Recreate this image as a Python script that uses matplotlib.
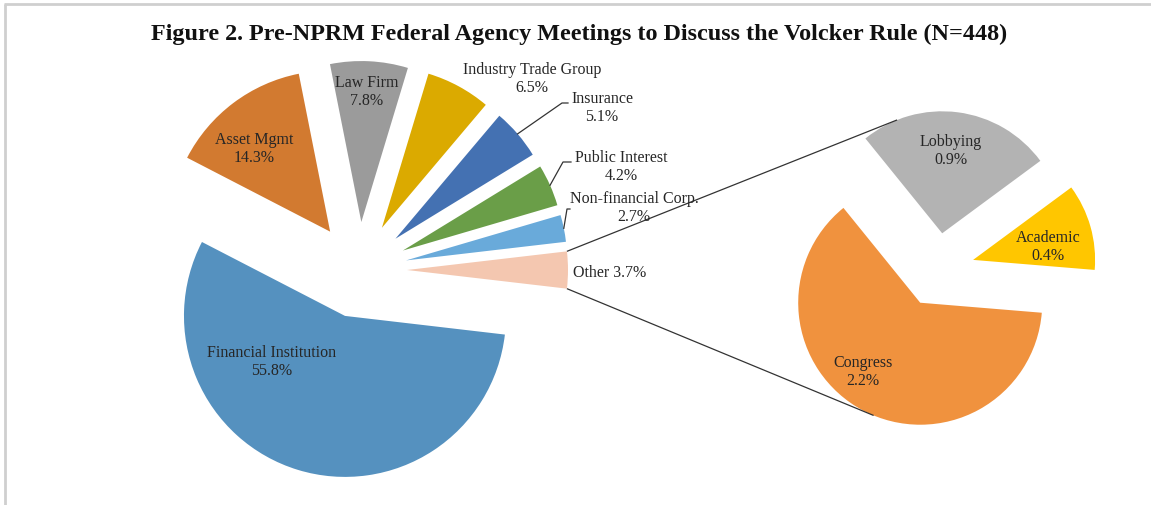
import numpy as np
import matplotlib
matplotlib.use("Agg")
import matplotlib.pyplot as plt

# ---------------- data ----------------
title = "Figure 2. Pre-NPRM Federal Agency Meetings to Discuss the Volcker Rule (N=448)"
main_labels = ["Financial Institution", "Asset Mgmt", "Law Firm", "Industry Trade Group",
               "Insurance", "Public Interest", "Non-financial Corp.", "Other"]
main_values = [55.8, 14.3, 7.8, 6.5, 5.1, 4.2, 2.7, 3.7]
main_colors = ["#5591BF", "#D27A30", "#9B9B9B", "#DBAA00",
               "#4471B2", "#6A9E48", "#69AADA", "#F4C7B0"]
sub_labels = ["Lobbying", "Academic", "Congress"]
sub_values = [0.9, 0.4, 2.2]
sub_colors = ["#B3B3B3", "#FFC600", "#F0923E"]

# ---------------- layout ----------------
W, H = 1151, 505
fig = plt.figure(figsize=(W / 100, H / 100), dpi=100)
ax = fig.add_axes([0, 0, 1, 1])


def Y(y):
    return H - y


FONT = "Liberation Serif"
TXT = "#262626"
FS = 11.5

c1 = np.array([359.0, Y(270)])
r1, e1 = 161.0, 48.0
c2 = np.array([937.5, Y(270)])
r2, e2 = 122.0, 37.0

other_angle = 360 * main_values[-1] / sum(main_values)
w1, _ = ax.pie(main_values, colors=main_colors, radius=r1, center=tuple(c1),
               startangle=-other_angle / 2, counterclock=False,
               wedgeprops=dict(linewidth=0), frame=True)
w2, _ = ax.pie(sub_values, colors=sub_colors, radius=r2, center=tuple(c2),
               startangle=129, counterclock=False,
               wedgeprops=dict(linewidth=0), frame=True)


def explode(wedges, c, e):
    for w in wedges:
        m = np.deg2rad(0.5 * (w.theta1 + w.theta2))
        w.set_center(tuple(c + e * np.array([np.cos(m), np.sin(m)])))


explode(w1, c1, e1)
explode(w2, c2, e2)


def pt(w, deg):
    t = np.deg2rad(deg)
    return np.array(w.center) + w.r * np.array([np.cos(t), np.sin(t)])


def tangent(P, w, sign):
    O = np.array(w.center)
    v = P - O
    d = np.hypot(*v)
    t = np.arctan2(v[1], v[0]) + sign * np.arccos(w.r / d)
    return O + w.r * np.array([np.cos(t), np.sin(t)])


# connector lines (tangent from "Other" corners to second pie)
other = w1[-1]
p_top = pt(other, other.theta2)
p_bot = pt(other, other.theta1)
t_top = tangent(p_top, w2[0], -1)
t_bot = tangent(p_bot, w2[2], +1)
for a, b in [(p_top, t_top), (p_bot, t_bot)]:
    ax.plot([a[0], b[0]], [a[1], b[1]], color="#333333", lw=0.9, solid_capstyle="butt")

# leader lines
leaders = {4: [(562, 103), (568, 103)], 5: [(563, 162), (571, 162)], 6: [(567, 209), (570, 209)]}
for i, pts in leaders.items():
    w = w1[i]
    s = pt(w, 0.5 * (w.theta1 + w.theta2))
    xs = [s[0]] + [p[0] for p in pts]
    ys = [s[1]] + [Y(p[1]) for p in pts]
    ax.plot(xs, ys, color="#333333", lw=0.9)

# labels
main_pos = [(272, 362), (254, 149), (367, 92), (532, 79), (602, 108), (621, 167), (634, 208)]
for lab, v, (x, y) in zip(main_labels[:-1], main_values[:-1], main_pos):
    ax.text(x, Y(y), f"{lab}\n{v}%", ha="center", va="center", fontsize=FS,
            family=FONT, color=TXT, linespacing=1.18)
ax.text(610, Y(273), f"{main_labels[-1]} {main_values[-1]}%", ha="center", va="center",
        fontsize=FS, family=FONT, color=TXT)

sub_pos = [(951, 151), (1048, 247), (863, 372)]
for lab, v, (x, y) in zip(sub_labels, sub_values, sub_pos):
    ax.text(x, Y(y), f"{lab}\n{v}%", ha="center", va="center", fontsize=FS,
            family=FONT, color=TXT, linespacing=1.18)

ax.text(579, Y(34), title, ha="center", va="center", fontsize=17.4, family=FONT,
        weight="bold", color="#111111")

# frame (left and top border)
ax.plot([5, 5], [Y(4), 0], color="#CFCFCF", lw=2.0, solid_capstyle="butt")
ax.plot([4, W], [Y(4), Y(4)], color="#CFCFCF", lw=2.0, solid_capstyle="butt")

ax.set_xlim(0, W)
ax.set_ylim(0, H)
ax.set_aspect("equal")
ax.axis("off")
fig.savefig("out.png", dpi=100)
